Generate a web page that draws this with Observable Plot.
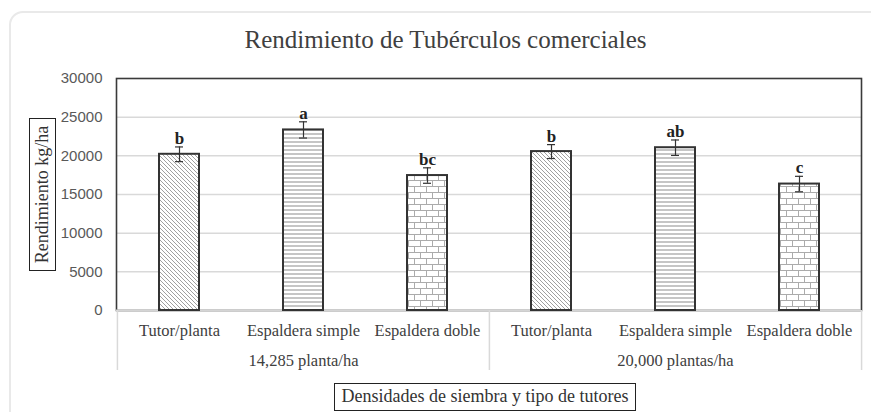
<!DOCTYPE html>
<html><head><meta charset="utf-8">
<script src="https://cdn.jsdelivr.net/npm/d3@7"></script>
<script src="https://cdn.jsdelivr.net/npm/@observablehq/plot@0.6"></script>
<style>
body{margin:0;background:#fff;}
#wrap{position:relative;width:871px;height:412px;overflow:hidden;background:#fff;}
#border{position:absolute;left:9px;top:11px;width:880px;height:420px;border:2px solid #e9e9e9;border-radius:14px;box-sizing:border-box;}
#title{position:absolute;left:0;top:27px;width:871px;padding-left:20px;box-sizing:border-box;text-align:center;font-family:"Liberation Serif";font-size:25px;color:#404040;line-height:1;}
#chart{position:absolute;left:0;top:60px;}
#ytitle{position:absolute;left:29px;top:118px;width:27px;height:153px;border:1.5px solid #222;box-sizing:border-box;display:flex;align-items:center;justify-content:center;}
#ytitle span{transform:rotate(-90deg);white-space:nowrap;font-family:"Liberation Serif";font-size:18px;color:#333;}
#xtitle{position:absolute;left:334px;top:383px;width:302px;height:28px;border:1.5px solid #222;box-sizing:border-box;text-align:center;font-family:"Liberation Serif";font-size:18px;line-height:25px;color:#333;}
</style>
</head><body>
<div id="wrap">
  <div id="border"></div>
  <div id="title">Rendimiento de Tubérculos comerciales</div>
  <div id="chart"></div>
  <div id="ytitle"><span>Rendimiento kg/ha</span></div>
  <div id="xtitle">Densidades de siembra y tipo de tutores</div>
</div>
<script>
const grupos = ["14,285 planta/ha", "20,000 plantas/ha"];
const tutores = ["Tutor/planta", "Espaldera simple", "Espaldera doble"];
const rendimiento = [20200, 23350, 17450, 20550, 21050, 16350];
const errores = [950, 1050, 1000, 900, 1000, 1000];
const letras = ["b", "a", "bc", "b", "ab", "c"];
const yTicks = [0, 5000, 10000, 15000, 20000, 25000, 30000];
const patrones = ["diag", "horiz", "brick"];

const rows = [];
grupos.forEach((g, gi) => tutores.forEach((t, ti) => {
  const i = gi * tutores.length + ti;
  rows.push({key: g + "|" + t, grupo: g, tipo: t, value: rendimiento[i], err: errores[i], letra: letras[i]});
}));
const keys = rows.map(r => r.key);

const W = 871, H = 320, ML = 116, MR = 10, MT = 18, MB = 70;
const step = (W - ML - MR) / keys.length;
const serif = "Liberation Serif";

const svg = Plot.plot({
  width: W, height: H, marginLeft: ML, marginRight: MR, marginTop: MT, marginBottom: MB,
  style: {fontFamily: "Liberation Sans", fontSize: "15px", color: "#595959", background: "transparent", overflow: "visible"},
  x: {domain: keys, paddingInner: 0.68, paddingOuter: 0.34, align: 0.5, label: null},
  y: {domain: [0, 30000], label: null},
  marks: [
    Plot.ruleY(yTicks.filter(v => v > 0 && v < 30000), {stroke: "#d9d9d9", strokeWidth: 1.5}),
    Plot.frame({stroke: "#3a3a3a", strokeWidth: 1.6}),
    Plot.ruleY([0], {stroke: "#d4d4d4", strokeWidth: 2}),
    Plot.ruleX(rows.filter(r => r.tipo === tutores[0]), {x: "key", y1: 0, y2: 0, dx: -step / 2, insetBottom: -60, stroke: "#d9d9d9", strokeWidth: 1.5}),
    Plot.ruleX(rows.slice(-1), {x: "key", y1: 0, y2: 0, dx: step / 2, insetBottom: -60, stroke: "#d9d9d9", strokeWidth: 1.5}),
    Plot.axisY({ticks: yTicks, tickSize: 0, tickPadding: 14, tickFormat: d => String(d)}),
    Plot.axisX({tickSize: 0, tickPadding: 14, tickFormat: k => k.split("|")[1], fontFamily: serif, fontSize: 16.5, fill: "#404040"}),
    ...tutores.map((t, j) => Plot.barY(rows.filter(r => r.tipo === t), {x: "key", y: "value", fill: `url(#${patrones[j]})`, stroke: "#333", strokeWidth: 2})),
    Plot.ruleX(rows, {x: "key", y1: d => d.value - d.err, y2: d => d.value + d.err, stroke: "#333", strokeWidth: 1.2}),
    Plot.tickY(rows, {x: "key", y: d => d.value + d.err, insetLeft: 16, insetRight: 16, stroke: "#333", strokeWidth: 1.2}),
    Plot.tickY(rows, {x: "key", y: d => d.value - d.err, insetLeft: 16, insetRight: 16, stroke: "#333", strokeWidth: 1.2}),
    Plot.text(rows, {x: "key", y: d => d.value + d.err, text: "letra", lineAnchor: "bottom", dy: -3, fontFamily: serif, fontWeight: "bold", fontSize: 17, fill: "#222"}),
    Plot.text(rows.filter(r => r.tipo === tutores[1]), {x: "key", text: "grupo", frameAnchor: "bottom", lineAnchor: "bottom", dy: 55, fontFamily: serif, fontSize: 16.5, fill: "#404040"})
  ]
});

const defs = d3.select(svg).insert("defs", ":first-child");
const p1 = defs.append("pattern").attr("id", "diag").attr("patternUnits", "userSpaceOnUse").attr("width", 4).attr("height", 4);
p1.append("rect").attr("width", 4).attr("height", 4).attr("fill", "#fff");
p1.append("path").attr("d", "M-1,-1L5,5M-1,3L1,5M3,-1L5,1").attr("stroke", "#a0a0a0").attr("stroke-width", 1);
const p2 = defs.append("pattern").attr("id", "horiz").attr("patternUnits", "userSpaceOnUse").attr("width", 4).attr("height", 4);
p2.append("rect").attr("width", 4).attr("height", 4).attr("fill", "#fff");
p2.append("path").attr("d", "M0,2H4").attr("stroke", "#a6a6a6").attr("stroke-width", 1.3);
const p3 = defs.append("pattern").attr("id", "brick").attr("patternUnits", "userSpaceOnUse").attr("width", 12).attr("height", 12);
p3.append("rect").attr("width", 12).attr("height", 12).attr("fill", "#fff");
p3.append("path").attr("d", "M0,0.5H12M0,6.5H12M0.5,0V6.5M6.5,6.5V12").attr("stroke", "#ababab").attr("stroke-width", 1);

document.getElementById("chart").appendChild(svg);
</script>
</body></html>
